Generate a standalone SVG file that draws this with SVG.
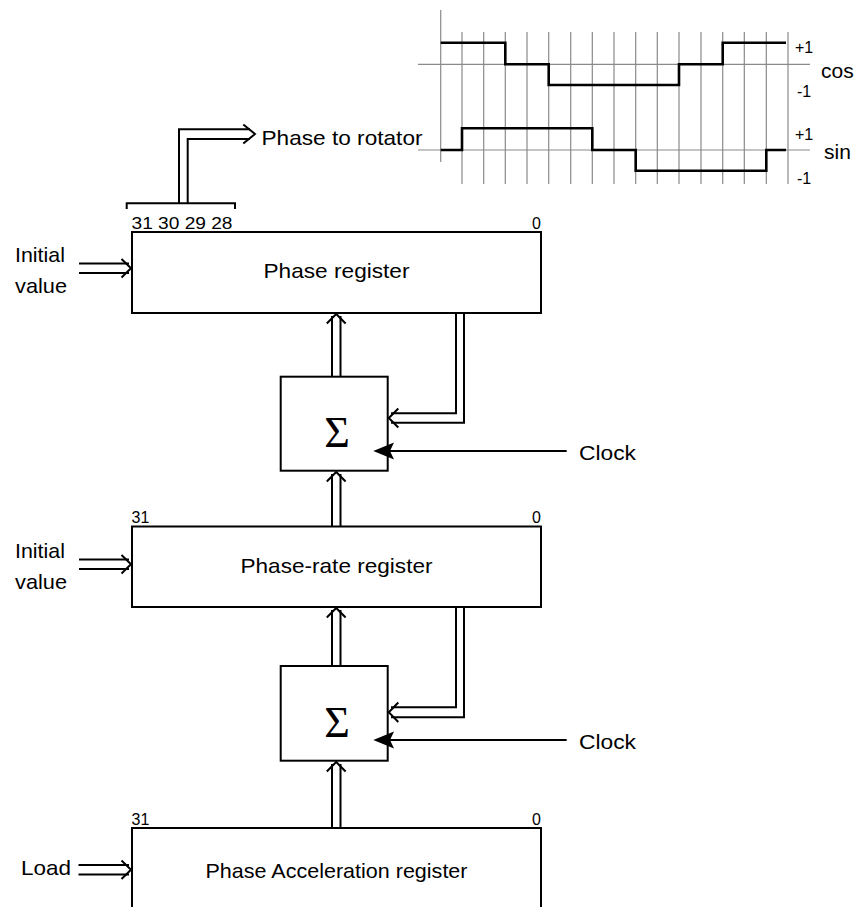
<svg xmlns="http://www.w3.org/2000/svg" width="859" height="907" viewBox="0 0 859 907">
<style>
.t{font-family:"Liberation Sans",Arial,Helvetica,sans-serif;fill:#000}
.l{font-size:21px}
.s{font-size:16px}
.box{fill:#fff;stroke:#000;stroke-width:2}
.w{fill:none;stroke:#000;stroke-width:2}
.g{fill:none;stroke:#8a8a8a;stroke-width:1.2}
.wave{fill:none;stroke:#000;stroke-width:2.6}
.sig{font-family:"Liberation Serif","Times New Roman",serif;font-size:44px;fill:#000}
.fa{fill:#000;stroke:none}
</style>
<rect width="859" height="907" fill="#fff"/>

<g id="waveform">
<path class="g" d="M440.7,10V162 M462,32V184 M483.7,32V184 M505.3,32V184 M527,32V184 M548.7,32V184 M570.7,32V184 M592.3,32V184 M614,32V184 M635.7,32V184 M657.3,32V184 M679,32V184 M701,32V184 M722.7,32V184 M744.3,32V184 M766.3,32V184 M788,32V184 M418,64.3H810 M418,150H810"/>
<path class="wave" d="M440.7,42.7H505.3V64.3H548.7V85H679V64.3H722.7V42.7H786"/>
<path class="wave" d="M440.7,150H462V128.3H592.3V150H635.7V170.7H766.3V150H786"/>
<text class="t" x="795" y="52.5" font-size="16">+1</text>
<text class="t" x="821" y="78" font-size="21">cos</text>
<text class="t" x="797" y="97" font-size="16">-1</text>
<text class="t" x="795" y="140" font-size="16">+1</text>
<text class="t" x="824" y="159" font-size="21">sin</text>
<text class="t" x="797" y="184" font-size="16">-1</text>
</g>

<g id="phase-register">
<rect class="box" x="132" y="232" width="409" height="81"/>
<text class="t l" x="336.5" y="278" text-anchor="middle" textLength="146" lengthAdjust="spacingAndGlyphs">Phase register</text>
<text class="t s" x="131.5" y="229" textLength="101" lengthAdjust="spacingAndGlyphs">31 30 29 28</text>
<text class="t s" x="541" y="229" text-anchor="end">0</text>
</g>

<g id="phase-rate-register">
<rect class="box" x="132" y="526.5" width="409" height="80.5"/>
<text class="t l" x="336.5" y="572.5" text-anchor="middle" textLength="192" lengthAdjust="spacingAndGlyphs">Phase-rate register</text>
<text class="t s" x="131.5" y="523">31</text>
<text class="t s" x="541" y="523" text-anchor="end">0</text>
</g>

<g id="phase-accel-register">
<rect class="box" x="132" y="828" width="409" height="100"/>
<text class="t l" x="336.5" y="878" text-anchor="middle" textLength="262" lengthAdjust="spacingAndGlyphs">Phase Acceleration register</text>
<text class="t s" x="131.5" y="825">31</text>
<text class="t s" x="541" y="825" text-anchor="end">0</text>
</g>

<g id="sum1">
<rect class="box" x="280.7" y="376.7" width="107" height="94"/>
<text class="sig" x="337" y="447" text-anchor="middle">Σ</text>
</g>

<g id="sum2">
<rect class="box" x="280.7" y="666" width="107" height="94.7"/>
<text class="sig" x="337" y="737" text-anchor="middle">Σ</text>
</g>

<g id="inputs">
<text class="t l" x="15" y="261.5" textLength="50" lengthAdjust="spacingAndGlyphs">Initial</text>
<text class="t l" x="15" y="293" textLength="52" lengthAdjust="spacingAndGlyphs">value</text>
<text class="t l" x="15" y="557.5" textLength="50" lengthAdjust="spacingAndGlyphs">Initial</text>
<text class="t l" x="15" y="589" textLength="52" lengthAdjust="spacingAndGlyphs">value</text>
<text class="t l" x="21" y="875" textLength="50" lengthAdjust="spacingAndGlyphs">Load</text>
<text class="t l" x="579" y="460" textLength="57" lengthAdjust="spacingAndGlyphs">Clock</text>
<text class="t l" x="579" y="749" textLength="57" lengthAdjust="spacingAndGlyphs">Clock</text>
<text class="t l" x="261.5" y="145" textLength="161" lengthAdjust="spacingAndGlyphs">Phase to rotator</text>
</g>

<g id="connectors">
<!-- bracket and phase to rotator -->
<path class="w" d="M126.7,209V203.3H235V209"/>
<path class="w" d="M179,203.3V129.3H250 M187.7,203.3V139H250"/>
<path class="w" d="M243.3,124.5L255,134L243.3,143.5"/>
<!-- initial value phase register -->
<path class="w" d="M79,263.5H129 M79,273H129"/>
<path class="w" d="M121.5,259L131,268.3L121.5,277.5"/>
<!-- initial value phase-rate -->
<path class="w" d="M79,559.5H129 M79,569H129"/>
<path class="w" d="M121.5,555L131,564.3L121.5,573.5"/>
<!-- load -->
<path class="w" d="M78.5,865H129 M78.5,874.5H129"/>
<path class="w" d="M121.5,860.5L131,869.8L121.5,879"/>
<!-- sum1 to phase register -->
<path class="w" d="M332,376.7V316 M340.5,376.7V316"/>
<path class="w" d="M326.8,323.5L336.2,314L345.6,323.5"/>
<!-- phase-rate to sum1 -->
<path class="w" d="M332,526.5V474 M340.5,526.5V474"/>
<path class="w" d="M326.8,481.5L336.2,472L345.6,481.5"/>
<!-- sum2 to phase-rate -->
<path class="w" d="M332,666V610 M340.5,666V610"/>
<path class="w" d="M326.8,617.5L336.2,608L345.6,617.5"/>
<!-- accel to sum2 -->
<path class="w" d="M332,828V764 M340.5,828V764"/>
<path class="w" d="M326.8,771.5L336.2,762L345.6,771.5"/>
<!-- feedback phase register -> sum1 -->
<path class="w" d="M456,313V413.3H391 M464,313V422.7H391"/>
<path class="w" d="M398.3,408.5L388.8,418L398.3,427.5"/>
<!-- feedback phase-rate -> sum2 -->
<path class="w" d="M456,607V707.3H391 M464,607V717.3H391"/>
<path class="w" d="M398.3,702.5L388.8,712.3L398.3,722"/>
<!-- clocks -->
<path class="w" d="M566.7,451H388"/>
<path class="fa" d="M373.3,451L394,442.5L390,451L394,459.5Z"/>
<path class="w" d="M566.7,740H388"/>
<path class="fa" d="M373.3,740L394,731.5L390,740L394,748.5Z"/>
</g>
</svg>
